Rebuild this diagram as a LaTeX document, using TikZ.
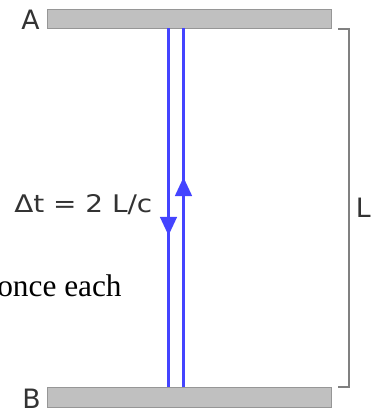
\documentclass[tikz,border=0pt]{standalone}
\usepackage{fontspec}
\setmainfont{DejaVu Sans}
\newfontfamily\serifface{Liberation Serif}
\newfontfamily\widesans[FakeStretch=1.15]{DejaVu Sans}
\usetikzlibrary{arrows.meta,decorations.markings}
\definecolor{beamblue}{RGB}{68,68,255}
\definecolor{barfill}{RGB}{192,192,192}
\definecolor{barline}{RGB}{150,150,150}
\definecolor{brackgray}{RGB}{128,128,128}
\definecolor{labelgray}{RGB}{51,51,51}
\begin{document}
\begin{tikzpicture}[x=0.75pt,y=-0.75pt,
  bar/.style={draw=barline, fill=barfill, line width=0.75pt, minimum width=213pt, inner sep=0pt, outer sep=0pt},
  beam/.style={color=beamblue, line width=2pt},
  beamarrow/.style={postaction={decorate}, decoration={markings, mark=at position #1 with {\arrow{Triangle[length=14pt,width=12.5pt]}}}},
  bracket/.style={draw=brackgray, line width=1.1pt},
  biglabel/.style={text=labelgray, inner sep=0pt, anchor=base west, font=\fontsize{20pt}{21pt}\selectfont},
  formula/.style={text=labelgray, inner sep=0pt, anchor=base west, font=\widesans\fontsize{18.2pt}{19pt}\selectfont},
  note/.style={text=black, inner sep=0pt, anchor=base west, font=\serifface\fontsize{23.5pt}{25pt}\selectfont}
]
\useasboundingbox (0,0) rectangle (377,408);
% mirrors
\node[bar, minimum height=14.25pt] (Abar) at (189,18.5) {};
\node[bar, minimum height=15pt] (Bbar) at (189,397) {};
% labels
\node[biglabel] (Alabel) at (21,29) {A};
\node[biglabel] (Blabel) at (22,408.5) {B};
\node[biglabel] (Llabel) at (355.5,217.5) {L};
\node[formula] (dt) at (14,212) {Δt = 2 L/c};
\node[note] (once) at (-3,296) {once each};
% beams
\coordinate (lx) at (168.5,0);
\coordinate (rx) at (183.5,0);
\draw[beam, beamarrow=0.578] (Abar.south -| lx) -- (Bbar.north -| lx);
\draw[beam, beamarrow=0.584] (Bbar.north -| rx) -- (Abar.south -| rx);
% bracket
\coordinate (bt0) at (338,29);
\coordinate (bt) at (349,29);
\coordinate (bb) at (349,387);
\coordinate (bb0) at (338,387);
\draw[bracket] (bt0) -- (bt) -- (bb) -- (bb0);
\end{tikzpicture}
\end{document}
